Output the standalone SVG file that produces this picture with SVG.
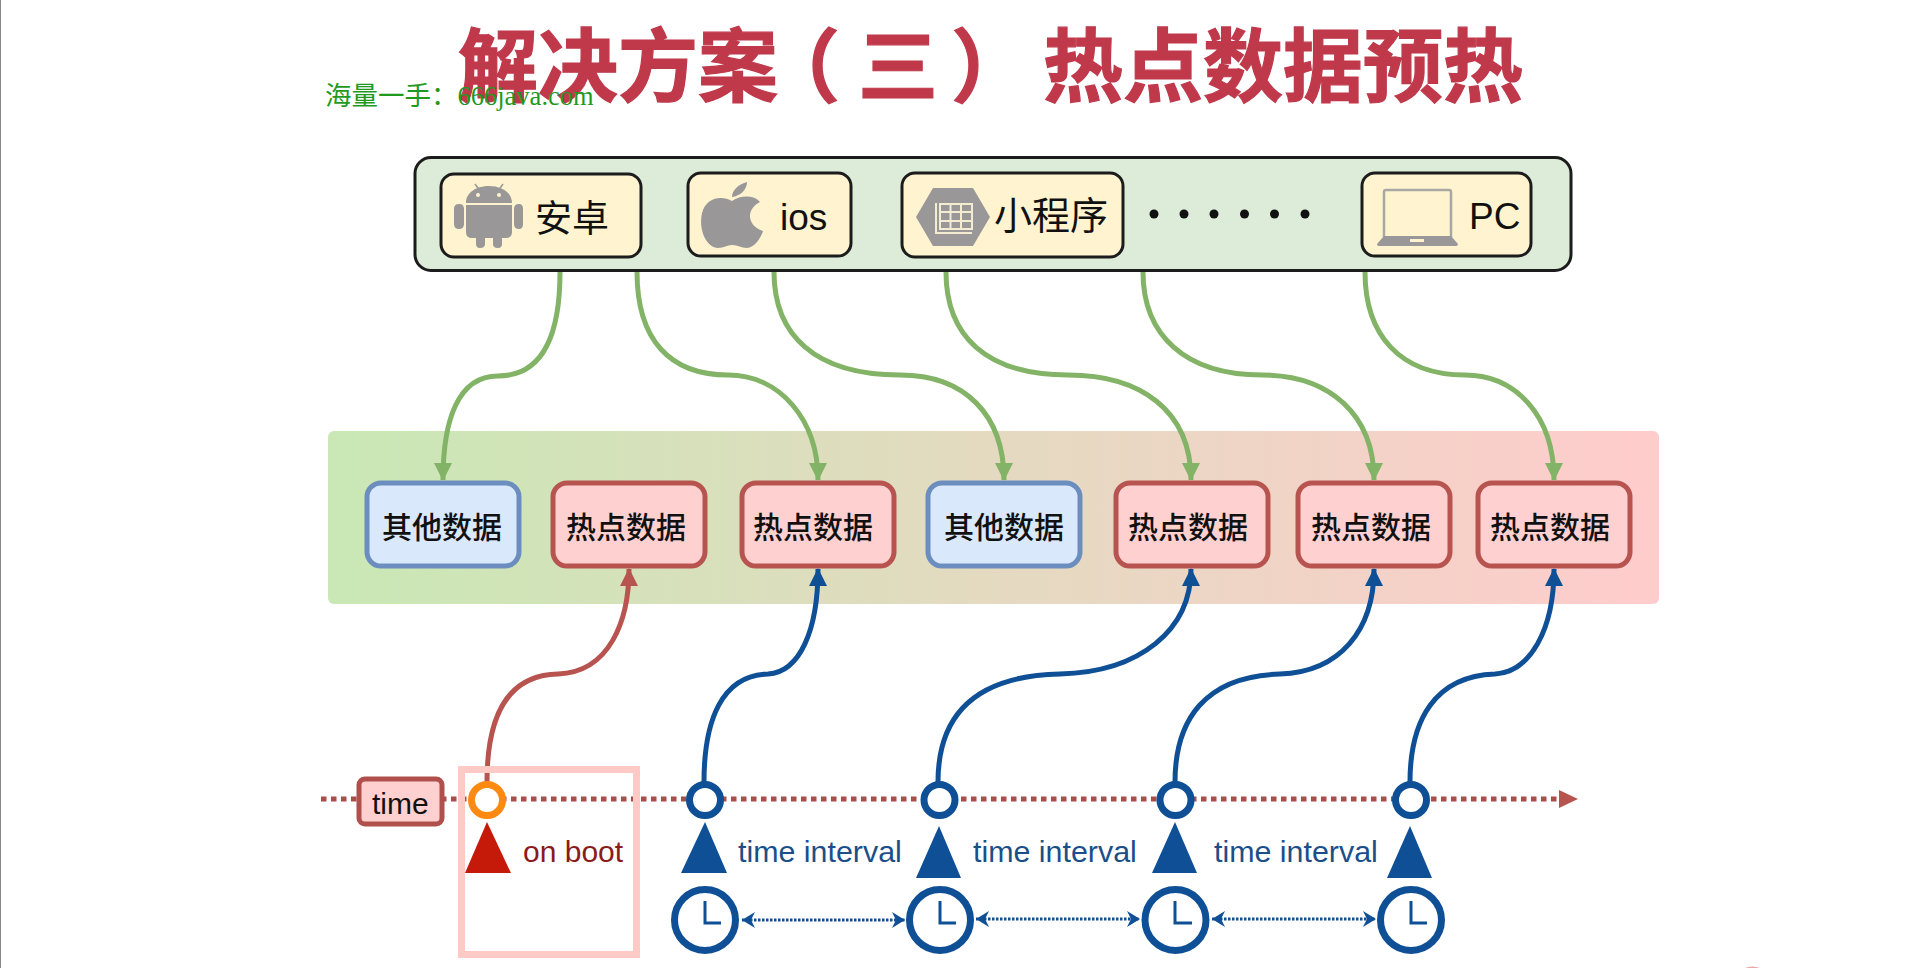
<svg xmlns="http://www.w3.org/2000/svg" width="1920" height="968" viewBox="0 0 1920 968">
<style>
.cjk{font-family:"Noto Sans CJK SC","Liberation Sans",sans-serif}
.lat{font-family:"Liberation Sans",Arial,sans-serif}
.title{font-size:80px;font-weight:700;fill:#c0394b;stroke:#c0394b;stroke-width:1.2}
.lbl{font-size:37px;fill:#111}
.dt{font-size:30px;fill:#111;text-anchor:middle;font-weight:500}
.client{fill:#fff4cf;stroke:#1c1c1c;stroke-width:3}
.red{fill:#ffd0d0;stroke:#b85450;stroke-width:5}
.blue{fill:#dae8fc;stroke:#6c8ebf;stroke-width:5}
.ico{fill:#999798}
.g{fill:none;stroke:#82b366;stroke-width:5}
.b{fill:none;stroke:#0e4f96;stroke-width:5}
.r{fill:none;stroke:#b85450;stroke-width:5}
.node{fill:#fff;stroke:#0e4f96;stroke-width:7}
.clock{fill:#fff;stroke:#0e4f96;stroke-width:7}
.hand{fill:none;stroke:#0e4f96;stroke-width:3}
.tri{fill:#0e4f96}
.iv{font-size:30.400px;fill:#1b4f8a}
.dbl{fill:none;stroke:#0e4f96;stroke-width:3;stroke-dasharray:2.5 1.5}
</style>
<defs>
<linearGradient id="band" x1="0" y1="0" x2="1" y2="0"><stop offset="0" stop-color="#c9e8b5"/><stop offset="1" stop-color="#ffcccc"/></linearGradient>
<marker id="ag" markerUnits="userSpaceOnUse" markerWidth="18" markerHeight="18" refX="17" refY="9" orient="auto"><path d="M0 0L18 9L0 18Z" fill="#82b366"/></marker>
<marker id="ab" markerUnits="userSpaceOnUse" markerWidth="18" markerHeight="18" refX="17" refY="9" orient="auto"><path d="M0 0L18 9L0 18Z" fill="#0e4f96"/></marker>
<marker id="ar" markerUnits="userSpaceOnUse" markerWidth="18" markerHeight="18" refX="17" refY="9" orient="auto"><path d="M0 0L18 9L0 18Z" fill="#b85450"/></marker>
<marker id="ad" markerUnits="userSpaceOnUse" markerWidth="14" markerHeight="18" refX="13" refY="9" orient="auto-start-reverse"><path d="M0 1L13 9L0 17L4 9Z" fill="#0e4f96"/></marker>
</defs>
<rect width="1920" height="968" fill="#fff"/>
<path d="M0.5 0V968" stroke="#8a8a8a" stroke-width="1"/>
<path d="M1745 968Q1752 965 1760 968Z" fill="#e6a8a8"/>
<text id="title" class="cjk title" y="95" x="458 538 618 698 760 858 951 1043 1123 1203 1283 1363 1443">解决方案（三）热点数据预热</text>
<g id="band-group"><rect x="328" y="431" width="1331" height="173" rx="6" fill="url(#band)"/></g>
<g id="clients">
<rect x="415" y="157.500" width="1156" height="113" rx="16" fill="#dcecd9" stroke="#1c1c1c" stroke-width="3"/>
<g id="android"><rect class="client" x="441" y="174" width="200" height="83" rx="13"/>
<path class="ico" d="M466 203C466 192 477 186 489 186C501 186 512 192 512 203ZM466 205H512V232Q512 238 506 238H472Q466 238 466 232ZM454 209Q454 204 459 204Q464 204 464 209V224Q464 229 459 229Q454 229 454 224ZM514 209Q514 204 519 204Q523 204 523 209V224Q523 229 519 229Q514 229 514 224ZM476 236H485V244Q485 248 480 248Q476 248 476 244ZM493 236H502V244Q502 248 498 248Q493 248 493 244Z"/>
<path d="M475 184L480 191M503 184L498 191" stroke="#999798" stroke-width="1.500"/>
<circle cx="478" cy="195" r="2" fill="#fff4cf"/><circle cx="499" cy="195" r="2" fill="#fff4cf"/>
<text class="cjk lbl" x="535" y="232">安卓</text></g>
<g id="ios"><rect class="client" x="688" y="173" width="163" height="83" rx="13"/>
<path class="ico" d="M732 201C722 195 706 197 702 213C698 232 708 248 718 248C724 248 727 245 732 245C738 245 741 248 747 248C754 248 761 238 763 231C754 228 750 222 750 216C750 210 754 205 760 202C754 195 741 195 732 201ZM732 197C732 190 739 184 747 182C747 190 740 196 732 197Z"/>
<text class="lat lbl" x="780" y="230">ios</text></g>
<g id="miniapp"><rect class="client" x="902" y="173" width="221" height="84" rx="13"/>
<path class="ico" d="M916 217L933 188H973L990 217L973 246H933Z"/>
<path d="M936 203V233H972M940 204H972V229H940ZM950.500 204V229M961 204V229M940 212H972M940 221H972" fill="none" stroke="#f3ecd0" stroke-width="2"/>
<text class="cjk lbl" x="994" y="229" style="font-size:38px">小程序</text></g>
<g id="more" fill="#111"><circle cx="1154" cy="214" r="4.500"/><circle cx="1184" cy="214" r="4.500"/><circle cx="1214" cy="214" r="4.500"/><circle cx="1244.500" cy="214" r="4.500"/><circle cx="1274.500" cy="214" r="4.500"/><circle cx="1305" cy="214" r="4.500"/></g>
<g id="pc"><rect class="client" x="1362" y="173" width="169" height="83" rx="13"/>
<path d="M1384 237V192Q1384 190 1386 190H1449Q1451 190 1451 192V237" fill="none" stroke="#a9a7a4" stroke-width="2.500"/>
<path class="ico" d="M1384 236H1451L1458 244Q1458 246 1456 246H1379Q1377 246 1377 244Z"/>
<rect x="1410" y="239" width="14" height="3" fill="#fff4cf"/>
<text class="lat lbl" x="1469" y="229">PC</text></g>
</g>
<g id="data">
<g id="d1"><rect class="blue" x="367" y="483" width="152" height="83" rx="14"/><text class="cjk dt" x="442" y="538">其他数据</text></g>
<g id="d2"><rect class="red" x="553" y="483" width="152" height="83" rx="14"/><text class="cjk dt" x="626" y="538">热点数据</text></g>
<g id="d3"><rect class="red" x="742" y="483" width="152" height="83" rx="14"/><text class="cjk dt" x="813" y="538">热点数据</text></g>
<g id="d4"><rect class="blue" x="928" y="483" width="152" height="83" rx="14"/><text class="cjk dt" x="1004" y="538">其他数据</text></g>
<g id="d5"><rect class="red" x="1116" y="483" width="152" height="83" rx="14"/><text class="cjk dt" x="1188" y="538">热点数据</text></g>
<g id="d6"><rect class="red" x="1298" y="483" width="152" height="83" rx="14"/><text class="cjk dt" x="1371" y="538">热点数据</text></g>
<g id="d7"><rect class="red" x="1478" y="483" width="152" height="83" rx="14"/><text class="cjk dt" x="1550" y="538">热点数据</text></g>
</g>
<g id="connectors">
<path class="g" marker-end="url(#ag)" d="M560 272C560 340 540 376 498 376C458 376 443 420 443 480"/>
<path class="g" marker-end="url(#ag)" d="M637 272C637 340 670 375 728 375C780 375 818 420 818 480"/>
<path class="g" marker-end="url(#ag)" d="M774 272C774 335 815 375 900 375C965 375 1004 415 1004 480"/>
<path class="g" marker-end="url(#ag)" d="M946 272C946 335 985 375 1068 375C1140 375 1191 410 1191 480"/>
<path class="g" marker-end="url(#ag)" d="M1143 272C1143 335 1185 375 1262 375C1330 375 1374 415 1374 480"/>
<path class="g" marker-end="url(#ag)" d="M1365 272C1365 335 1400 375 1465 375C1515 375 1554 415 1554 480"/>
<path class="r" marker-end="url(#ar)" d="M487 782C487 720 505 675 558 674C610 672 629 620 629 569"/>
<path class="b" marker-end="url(#ab)" d="M704 782C704 720 722 675 768 674C800 672 818 630 818 569"/>
<path class="b" marker-end="url(#ab)" d="M938 782C938 720 970 676 1060 674C1140 672 1191 630 1191 569"/>
<path class="b" marker-end="url(#ab)" d="M1175 782C1175 720 1205 676 1280 674C1340 672 1374 630 1374 569"/>
<path class="b" marker-end="url(#ab)" d="M1410 782C1410 720 1435 676 1495 674C1530 672 1554 630 1554 569"/>
<path d="M321 799H1562" fill="none" stroke="#a84f4c" stroke-width="5" stroke-dasharray="5.500 4.500"/>
<path d="M1559 790L1578 799L1559 808Z" fill="#b85450"/>
<path class="dbl" marker-start="url(#ad)" marker-end="url(#ad)" d="M742 920H905"/>
<path class="dbl" marker-start="url(#ad)" marker-end="url(#ad)" d="M976 919H1140"/>
<path class="dbl" marker-start="url(#ad)" marker-end="url(#ad)" d="M1212 919H1376"/>
</g>
<g id="time"><rect x="359" y="779" width="83" height="45" rx="6" fill="#ffd0d0" stroke="#b0504d" stroke-width="5"/><text class="lat" x="372" y="814" font-size="30" fill="#111">time</text></g>
<g id="boot">
<rect x="461.500" y="769.500" width="175" height="185" fill="none" stroke="#ffc9c6" stroke-width="7"/>
<circle cx="487" cy="800" r="15.500" fill="#fff" stroke="#ff8a12" stroke-width="7"/>
<path d="M487 822L511 873H465Z" fill="#c5190a"/>
<text class="lat" x="523" y="862" font-size="30" fill="#8b1a1a">on boot</text>
</g>
<g id="t1"><circle class="node" cx="705" cy="800" r="15.500"/><path class="tri" d="M705 822L727 873H681Z"/><circle class="clock" cx="705" cy="920" r="30.500"/><path class="hand" d="M705 901V923H721"/><text class="lat iv" x="738" y="862">time interval</text></g>
<g id="t2"><circle class="node" cx="939.500" cy="800" r="15.500"/><path class="tri" d="M939 826L961 878H916Z"/><circle class="clock" cx="940" cy="920" r="30.500"/><path class="hand" d="M940 901V923H956"/><text class="lat iv" x="973" y="862">time interval</text></g>
<g id="t3"><circle class="node" cx="1175.500" cy="800" r="15.500"/><path class="tri" d="M1175 822L1197 873H1152Z"/><circle class="clock" cx="1175.500" cy="920" r="30.500"/><path class="hand" d="M1175 901V923H1192"/><text class="lat iv" x="1214" y="862">time interval</text></g>
<g id="t4"><circle class="node" cx="1411" cy="800" r="15.500"/><path class="tri" d="M1410 826L1432 878H1387Z"/><circle class="clock" cx="1411" cy="920" r="30.500"/><path class="hand" d="M1411 901V923H1427"/></g>
<text id="watermark" x="325" y="105" font-size="26.500" fill="#1f9a1f" font-family="'Liberation Serif','Noto Sans CJK SC',serif">海量一手：666java.com</text>
</svg>
